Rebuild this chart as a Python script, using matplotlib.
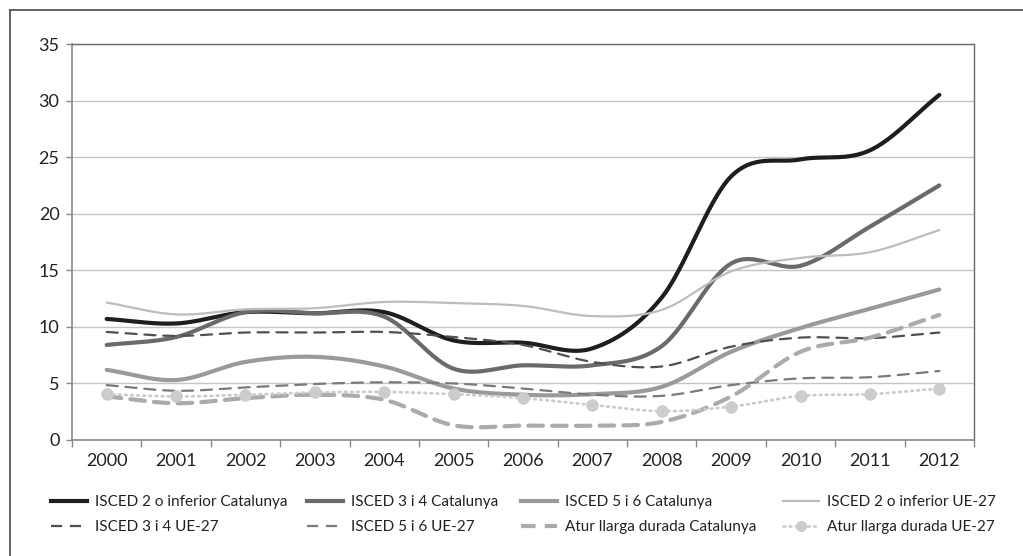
import numpy as np
import matplotlib
matplotlib.use("Agg")
import matplotlib.pyplot as plt
from matplotlib.lines import Line2D

years = ["2000", "2001", "2002", "2003", "2004", "2005", "2006",
         "2007", "2008", "2009", "2010", "2011", "2012"]

isced2_cat = [10.7, 10.3, 11.3, 11.2, 11.3, 8.8, 8.6, 8.1, 12.6, 23.3, 24.8, 25.6, 30.5]
isced34_cat = [8.4, 9.1, 11.3, 11.2, 10.9, 6.3, 6.6, 6.6, 8.3, 15.6, 15.4, 18.85, 22.5]
isced56_cat = [6.2, 5.3, 6.9, 7.35, 6.5, 4.55, 4.0, 4.05, 4.7, 7.8, 9.9, 11.6, 13.3]
isced2_ue = [12.15, 11.1, 11.55, 11.65, 12.2, 12.1, 11.85, 10.95, 11.5, 14.9, 16.1, 16.6, 18.55]
isced34_ue = [9.55, 9.2, 9.5, 9.5, 9.55, 9.1, 8.4, 6.9, 6.5, 8.25, 9.05, 9.0, 9.5]
isced56_ue = [4.85, 4.35, 4.65, 4.95, 5.1, 5.0, 4.55, 4.0, 3.9, 4.85, 5.45, 5.55, 6.1]
atur_cat = [3.85, 3.25, 3.7, 4.0, 3.55, 1.3, 1.27, 1.27, 1.6, 3.85, 7.8, 9.05, 11.05]
atur_ue = [4.05, 3.85, 4.0, 4.2, 4.25, 4.05, 3.7, 3.1, 2.55, 2.95, 3.9, 4.05, 4.55]

labels = ["ISCED 2 o inferior Catalunya", "ISCED 3 i 4 Catalunya",
          "ISCED 5 i 6 Catalunya", "ISCED 2 o inferior UE-27",
          "ISCED 3 i 4 UE-27", "ISCED 5 i 6 UE-27",
          "Atur llarga durada Catalunya", "Atur llarga durada UE-27"]

series = [isced2_cat, isced34_cat, isced56_cat, isced2_ue,
          isced34_ue, isced56_ue, atur_cat, atur_ue]

styles = [
    dict(color="#1e1e1e", lw=3.0, ls="-"),
    dict(color="#6a6a6a", lw=3.0, ls="-"),
    dict(color="#9a9a9a", lw=3.0, ls="-"),
    dict(color="#bdbdbd", lw=1.6, ls="-"),
    dict(color="#505050", lw=1.6, ls=(0, (5, 3.5))),
    dict(color="#7a7a7a", lw=1.6, ls=(0, (5, 3.5))),
    dict(color="#ababab", lw=3.0, ls=(0, (3.5, 2.2))),
    dict(color="#cccccc", lw=2.0, ls=(0, (0.6, 1.6))),
]


def smooth(y, n=30):
    """Excel-style smoothed line (Catmull-Rom) through the data points."""
    y = np.asarray(y, float)
    x = np.arange(len(y), dtype=float)
    xs, ys = [], []
    for i in range(len(y) - 1):
        y0 = y[i - 1] if i > 0 else y[i]
        y3 = y[i + 2] if i + 2 < len(y) else y[i + 1]
        y1, y2 = y[i], y[i + 1]
        m1 = (y2 - y0) / (2 if i > 0 else 1)
        m2 = (y3 - y1) / (2 if i + 2 < len(y) else 1)
        t = np.linspace(0, 1, n, endpoint=(i == len(y) - 2))
        h00 = 2 * t**3 - 3 * t**2 + 1
        h10 = t**3 - 2 * t**2 + t
        h01 = -2 * t**3 + 3 * t**2
        h11 = t**3 - t**2
        xs.append(x[i] + t)
        ys.append(h00 * y1 + h10 * m1 + h01 * y2 + h11 * m2)
    return np.concatenate(xs), np.concatenate(ys)


plt.rcParams['font.family'] = ['Lato', 'DejaVu Sans']

fig = plt.figure(figsize=(10.23, 5.56), dpi=100)
ax = fig.add_axes([72 / 1023, 116 / 556, 902 / 1023, 396 / 556])

handles = []
for vals, st, lab in zip(series, styles, labels):
    xs, ys = smooth(vals)
    ax.plot(xs, ys, color=st["color"], lw=st["lw"], ls=st["ls"],
            solid_capstyle="round",
            dash_capstyle="round" if (st["lw"] < 2.5 or lab.startswith("Atur")) else "butt",
            zorder=3)
    if lab == "Atur llarga durada UE-27":
        ax.plot(np.arange(len(vals)), vals, ls="none", marker="o", ms=8,
                color=st["color"], zorder=4)
        h = Line2D([], [], color=st["color"], lw=st["lw"], ls=st["ls"],
                   marker="o", ms=7, dash_capstyle="round")
    else:
        h = Line2D([], [], color=st["color"], lw=st["lw"], ls=st["ls"])
    handles.append(h)

ax.set_xlim(-0.5, 12.5)
ax.set_ylim(0, 35)
ax.set_yticks(np.arange(0, 36, 5))
ax.set_xticks(np.arange(len(years)))
ax.set_xticklabels(years)
ax.set_xticks(np.arange(-0.5, 13, 1), minor=True)
ax.tick_params(axis="x", which="major", length=0, pad=9, labelsize=13, labelcolor="#222222")
ax.tick_params(axis="x", which="minor", length=5, color="#888888", width=1)
ax.tick_params(axis="y", length=4, color="#888888", width=1, pad=5, labelsize=13, labelcolor="#222222")
ax.grid(axis="y", color="#c4c4c4", lw=1)
ax.set_axisbelow(True)
for side in ["left", "bottom"]:
    ax.spines[side].set_color("#8a8a8a")
    ax.spines[side].set_linewidth(1.2)
for side in ["top", "right"]:
    ax.spines[side].set_color("#6a6a6a")
    ax.spines[side].set_linewidth(1.0)

# legend: four columns placed at the reference's column positions
col_x = [51, 307, 521, 783]
for c in range(4):
    idx = [c, c + 4]
    leg = fig.legend([handles[i] for i in idx], [labels[i] for i in idx],
                     ncol=1, loc="upper left",
                     bbox_to_anchor=(col_x[c] / 1023, 1 - 495 / 556),
                     frameon=False, fontsize=11, handlelength=2.35,
                     handletextpad=0.55, labelspacing=0.75,
                     borderpad=0, borderaxespad=0)
    for t in leg.get_texts():
        t.set_color("#222222")

# outer frame (left and top edges visible)
fig.add_artist(Line2D([10 / 1023, 10 / 1023], [0, 1 - 10 / 556], transform=fig.transFigure,
                      color="#555555", lw=1.3))
fig.add_artist(Line2D([10 / 1023, 1], [1 - 10 / 556, 1 - 10 / 556], transform=fig.transFigure,
                      color="#555555", lw=1.3))

fig.savefig("out.png", dpi=100)
